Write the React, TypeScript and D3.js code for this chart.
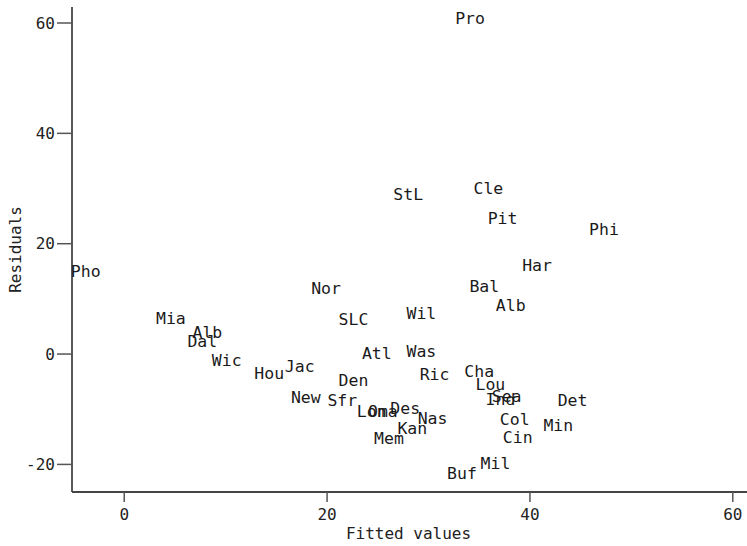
import React from "react";
import * as d3 from "d3";

// City abbreviations with fitted values and residuals from the regression
const cities = ["Pro", "StL", "Cle", "Pit", "Phi", "Pho", "Har", "Nor", "Bal", "Alb", "Wil", "SLC", "Mia", "Alb", "Dal", "Atl", "Was", "Wic", "Hou", "Jac", "Ric", "Cha", "Den", "Lou", "New", "Sfr", "Ind", "Sea", "Det", "Lon", "Oma", "Des", "Nas", "Col", "Min", "Kan", "Cin", "Mem", "Mil", "Buf"];
const fitted = [34.1, 28.0, 35.9, 37.3, 47.3, -3.8, 40.7, 19.9, 35.5, 38.1, 29.3, 22.6, 4.6, 8.2, 7.7, 24.9, 29.3, 10.1, 14.3, 17.3, 30.6, 35.0, 22.6, 36.1, 17.9, 21.5, 37.1, 37.7, 44.2, 24.4, 25.5, 27.7, 30.4, 38.5, 42.8, 28.4, 38.8, 26.1, 36.6, 33.3];
const residuals = [60.9, 29.0, 30.1, 24.6, 22.6, 15.0, 16.1, 12.0, 12.3, 8.9, 7.4, 6.3, 6.5, 4.0, 2.4, 0.2, 0.5, -1.1, -3.4, -2.2, -3.6, -3.1, -4.7, -5.4, -7.8, -8.4, -8.1, -7.6, -8.4, -10.4, -10.3, -9.8, -11.6, -11.7, -12.9, -13.5, -15.0, -15.2, -19.7, -21.5];

const xTicks = [0, 20, 40, 60];
const yTicks = [-20, 0, 20, 40, 60];

const W = 747;
const H = 546;
const FONT = "'DejaVu Sans Mono', monospace";

export default function App() {
  const x = d3.scaleLinear().domain([-5.15, 61.4]).range([72, 747]);
  const y = d3.scaleLinear().domain([-25, 62.9]).range([492, 7]);
  const [x0] = x.range();
  const [y0, y1] = y.range();

  return (
    <svg
      width={W}
      height={H}
      style={{ position: "absolute", left: 0, top: 0, background: "#fff" }}
      fontFamily={FONT}
    >
      {/* axes */}
      <line x1={x0} x2={x0} y1={y1} y2={y0} stroke="#222" strokeWidth={1.5} />
      <line x1={x0} x2={W} y1={y0} y2={y0} stroke="#444" strokeWidth={2} />

      {/* y ticks */}
      {yTicks.map((t) => (
        <g key={"y" + t}>
          <line x1={x0 - 15} x2={x0} y1={y(t)} y2={y(t)} stroke="#555" strokeWidth={1.5} />
          <text x={x0 - 17} y={y(t)} dy="0.36em" textAnchor="end" fontSize={16} fill="#222">
            {t < 0 ? "-" + Math.abs(t) : t}
          </text>
        </g>
      ))}

      {/* x ticks */}
      {xTicks.map((t) => (
        <g key={"x" + t}>
          <line x1={x(t)} x2={x(t)} y1={y0} y2={y0 + 10} stroke="#555" strokeWidth={1.5} />
          <text x={x(t)} y={y0 + 22} dy="0.36em" textAnchor="middle" fontSize={16} fill="#222">
            {t}
          </text>
        </g>
      ))}

      {/* axis titles */}
      <text x={(x0 + W) / 2 - 1} y={533} dy="0.36em" textAnchor="middle" fontSize={16} fill="#222">
        Fitted values
      </text>
      <text
        transform={`translate(15,${(y0 + y1) / 2}) rotate(-90)`}
        dy="0.36em"
        textAnchor="middle"
        fontSize={16}
        fill="#222"
      >
        Residuals
      </text>

      {/* point labels centred on each observation */}
      {cities.map((c, i) => (
        <text
          key={i}
          x={x(fitted[i])}
          y={y(residuals[i])}
          dy="0.36em"
          textAnchor="middle"
          fontSize={16.5}
          fill="#1a1a1a"
        >
          {c}
        </text>
      ))}
    </svg>
  );
}
